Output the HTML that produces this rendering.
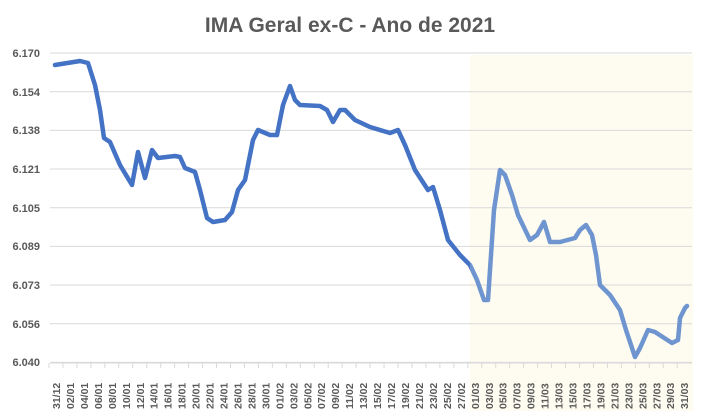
<!DOCTYPE html>
<html><head><meta charset="utf-8"><style>
body{margin:0;background:#fff;width:701px;height:411px;overflow:hidden;font-family:"Liberation Sans",sans-serif}
</style></head><body>
<svg width="701" height="411" xmlns="http://www.w3.org/2000/svg">
<rect x="470" y="55" width="223" height="356" fill="#fefcf0"/>
<text x="350" y="32" text-anchor="middle" font-size="21" font-weight="bold" fill="#595959" font-family="Liberation Sans,sans-serif">IMA Geral ex-C - Ano de 2021</text>
<g stroke="#d9d9d9" stroke-width="1">
<line x1="50" x2="692" y1="53" y2="53"/><line x1="50" x2="692" y1="91.7" y2="91.7"/><line x1="50" x2="692" y1="130.4" y2="130.4"/><line x1="50" x2="692" y1="169" y2="169"/><line x1="50" x2="692" y1="207.7" y2="207.7"/><line x1="50" x2="692" y1="246.4" y2="246.4"/><line x1="50" x2="692" y1="285" y2="285"/><line x1="50" x2="692" y1="323.7" y2="323.7"/><line x1="50" x2="692" y1="362.4" y2="362.4"/>
</g>
<g font-size="11" font-weight="bold" fill="#595959" text-anchor="end">
<text x="40" y="57">6.170</text><text x="40" y="96">6.154</text><text x="40" y="134">6.138</text><text x="40" y="173">6.121</text><text x="40" y="212">6.105</text><text x="40" y="250">6.089</text><text x="40" y="289">6.073</text><text x="40" y="328">6.056</text><text x="40" y="366">6.040</text>
</g>
<defs><clipPath id="a"><rect x="0" y="0" width="470" height="411"/></clipPath><clipPath id="b"><rect x="470" y="0" width="231" height="411"/></clipPath></defs>
<polyline clip-path="url(#a)" fill="none" stroke="#4472C4" stroke-width="4.5" stroke-linejoin="round" stroke-linecap="round" points="55,65 80,61 88,63 95,85 100,110 104,138 110,142 120,165 132,185 138,152 145,178 152,150 158,158 175,156 180,157 185,168 195,172 200,190 207,218 213,222 225,220 232,212 238,190 245,180 253,140 258,130 270,135 277,135 283,105 290,86 295,100 300,105 320,106 327,110 333,122 340,110 345,110 355,120 370,127 390,133 398,130 405,145 415,170 428,190 433,187 440,210 448,240 460,255 470,265 477,280 484,300 488,300"/>
<polyline clip-path="url(#b)" fill="none" stroke="#6f95d0" stroke-width="4.5" stroke-linejoin="round" stroke-linecap="round" points="460,255 470,265 477,280 484,300 488,300 494,210 500,170 505,175 512,195 518,215 530,240 537,235 544,222 550,242 560,242 575,238 580,230 586,225 592,235 596,255 600,285 610,295 620,310 626,330 635,357 640,348 648,330 655,332 672,343 678,340 680,318 685,308 687,306"/>
<line x1="50" x2="692" y1="363" y2="363" stroke="#d9d9d9"/>
<g id="ticks" stroke="#d9d9d9"></g>
<g font-size="10.5" font-weight="bold" fill="#595959" id="lab"></g>
</svg>
<script>
var L=["31/12","02/01","04/01","06/01","08/01","10/01","12/01","14/01","16/01","18/01","20/01","22/01","24/01","26/01","28/01","30/01","01/02","03/02","05/02","07/02","09/02","11/02","13/02","15/02","17/02","19/02","21/02","23/02","25/02","27/02","01/03","03/03","05/03","07/03","09/03","11/03","13/03","15/03","17/03","19/03","21/03","23/03","25/03","27/03","29/03","31/03"];
var g=document.getElementById("lab"),t=document.getElementById("ticks"),ns="http://www.w3.org/2000/svg";
for(var i=0;i<L.length;i++){var x=56+i*13.96;
var e=document.createElementNS(ns,"text");e.setAttribute("transform","translate("+(x+4)+",409) rotate(-90)");e.textContent=L[i];g.appendChild(e);
var l=document.createElementNS(ns,"line");l.setAttribute("x1",x-7);l.setAttribute("x2",x-7);l.setAttribute("y1",363);l.setAttribute("y2",368);t.appendChild(l);}
</script>
</body></html>
